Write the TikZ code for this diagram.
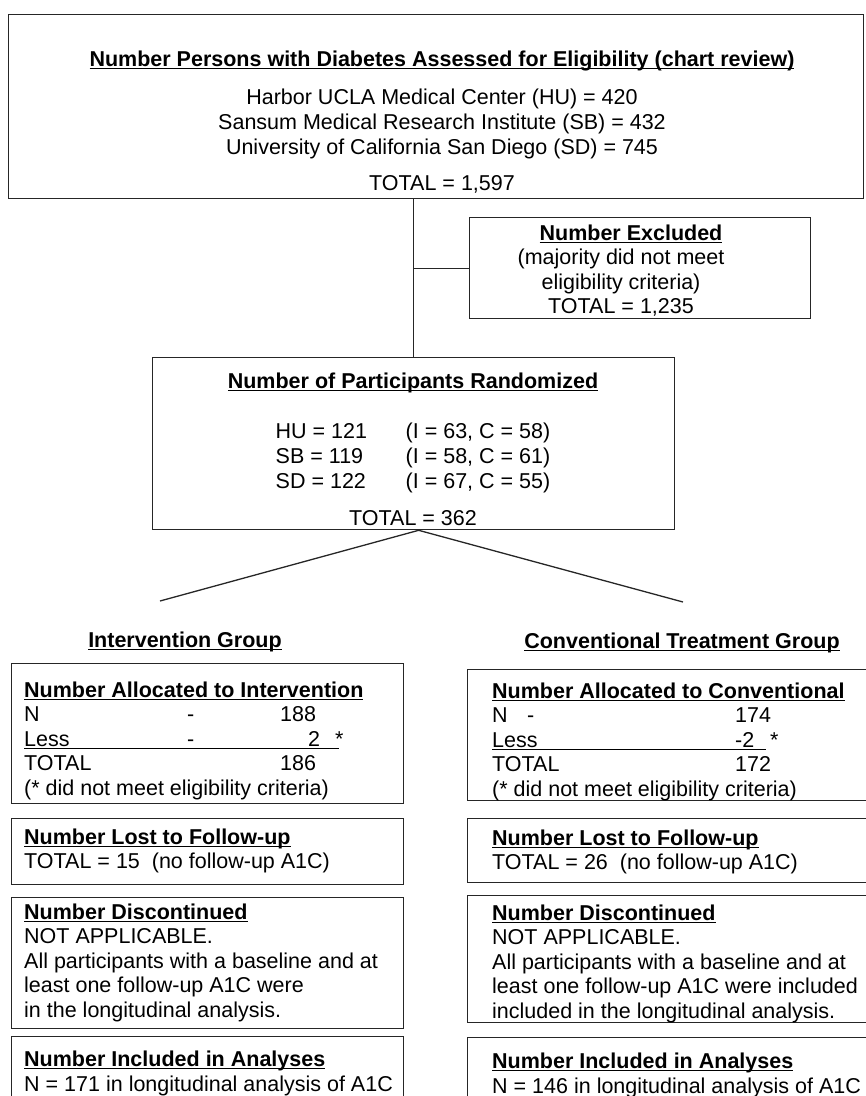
\documentclass[tikz,border=0pt]{standalone}
\usepackage{fontspec}
\setmainfont{Liberation Sans}
\usepackage{tikz}
\newcommand{\ulined}[1]{\setbox0=\hbox{#1}\rlap{\rule[-3.3pt]{\wd0}{1.5pt}}\box0}
\newcommand{\boxhead}[1]{\ulined{\textbf{#1}}}

\begin{document}
\begin{tikzpicture}[x=1pt, y=-1pt,
    box/.style={draw=black!85, line width=1.3pt, anchor=north west, inner sep=0pt},
    txt/.style={inner sep=0pt, font=\fontsize{21.5}{24.5}\selectfont},
    link/.style={draw=black!85, line width=1.3pt}]
    \useasboundingbox (0,0) rectangle (866,1096);
    \node[box, minimum width=855pt, minimum height=184pt] (assess) at (8,14) {};
    \node[box, minimum width=341pt, minimum height=101pt] (excl) at (469,217) {};
    \node[box, minimum width=522pt, minimum height=172pt] (rand) at (152,357) {};
    \node[box, minimum width=392pt, minimum height=140pt] (alloc-i) at (11,663) {};
    \node[box, minimum width=392pt, minimum height=66pt] (lost-i) at (11,818) {};
    \node[box, minimum width=392pt, minimum height=131pt] (disc-i) at (11,897) {};
    \node[box, minimum width=392pt, minimum height=100pt] (incl-i) at (11,1036) {};
    \node[box, minimum width=420pt, minimum height=131pt] (alloc-c) at (467,669) {};
    \node[box, minimum width=420pt, minimum height=64pt] (lost-c) at (467,818) {};
    \node[box, minimum width=420pt, minimum height=127pt] (disc-c) at (467,895) {};
    \node[box, minimum width=420pt, minimum height=100pt] (incl-c) at (467,1037) {};
    \coordinate (fork-i) at (160,601);
    \coordinate (fork-c) at (683,602);

    \node[txt, anchor=base] (assess-t) at (442,66) {\begin{tabular}[t]{@{}c@{}}
        \boxhead{Number Persons with Diabetes Assessed for Eligibility (chart review)}\\[13.5pt]
        Harbor UCLA Medical Center (HU) = 420\\[0.5pt]
        Sansum Medical Research Institute (SB) = 432\\[0.5pt]
        University of California San Diego (SD) = 745\\[11.5pt]
        TOTAL = 1,597
        \end{tabular}};
    \node[txt, anchor=base] (excl-t) at (621,240) {\begin{tabular}[t]{@{}c@{}}
        \hspace*{20pt}\boxhead{Number Excluded}\\
        (majority did not meet\\
        eligibility criteria)\\
        TOTAL = 1,235
        \end{tabular}};
    \node[txt, anchor=base] (rand-t) at (413,388) {\begin{tabular}[t]{@{}c@{}}
        \boxhead{Number of Participants Randomized}\\[25.5pt]
        \makebox[130pt][l]{HU = 121}(I = 63, C = 58)\\[0.5pt]
        \makebox[130pt][l]{SB = 119}(I = 58, C = 61)\\[0.5pt]
        \makebox[130pt][l]{SD = 122}(I = 67, C = 55)\\[12.5pt]
        TOTAL = 362
        \end{tabular}};
    \node[txt, anchor=base] (group-i) at (185,647) {\boxhead{Intervention Group}};
    \node[txt, anchor=base] (group-c) at (682,648) {\boxhead{Conventional Treatment Group}};

    \node[txt, anchor=base west] (alloc-i-t) at (24,697) {\begin{tabular}[t]{@{}l@{}}
        \boxhead{Number Allocated to Intervention}\\
        \makebox[163pt][l]{N}\makebox[93pt][l]{-}188\\
        \ulined{\makebox[315pt][l]{\makebox[163pt][l]{Less}\makebox[93pt][l]{-}\hspace{28pt}2\hspace{15pt}*}}\\
        \makebox[256pt][l]{TOTAL}186\\
        (* did not meet eligibility criteria)
        \end{tabular}};
    \node[txt, anchor=base west] (lost-i-t) at (24,844) {\begin{tabular}[t]{@{}l@{}}
        \boxhead{Number Lost to Follow-up}\\
        TOTAL = 15\ \ (no follow-up A1C)
        \end{tabular}};
    \node[txt, anchor=base west] (disc-i-t) at (24,919) {\begin{tabular}[t]{@{}l@{}}
        \boxhead{Number Discontinued}\\
        NOT APPLICABLE.\\
        All participants with a baseline and at\\
        least one follow-up A1C were\\
        in the longitudinal analysis.
        \end{tabular}};
    \node[txt, anchor=base west] (incl-i-t) at (24,1066) {\begin{tabular}[t]{@{}l@{}}
        \boxhead{Number Included in Analyses}\\[0.5pt]
        N = 171 in longitudinal analysis of A1C
        \end{tabular}};

    \node[txt, anchor=base west] (alloc-c-t) at (492,698) {\begin{tabular}[t]{@{}l@{}}
        \boxhead{Number Allocated to Conventional}\\
        \makebox[243pt][l]{\makebox[35pt][l]{N}-}174\\
        \ulined{\makebox[274pt][l]{\makebox[243pt][l]{Less}-2}}\hspace{4pt}*\\
        \makebox[243pt][l]{TOTAL}172\\
        (* did not meet eligibility criteria)
        \end{tabular}};
    \node[txt, anchor=base west] (lost-c-t) at (492,845) {\begin{tabular}[t]{@{}l@{}}
        \boxhead{Number Lost to Follow-up}\\
        TOTAL = 26\ \ (no follow-up A1C)
        \end{tabular}};
    \node[txt, anchor=base west] (disc-c-t) at (492,920) {\begin{tabular}[t]{@{}l@{}}
        \boxhead{Number Discontinued}\\
        NOT APPLICABLE.\\
        All participants with a baseline and at\\
        least one follow-up A1C were included\\
        included in the longitudinal analysis.
        \end{tabular}};
    \node[txt, anchor=base west] (incl-c-t) at (492,1068) {\begin{tabular}[t]{@{}l@{}}
        \boxhead{Number Included in Analyses}\\[0.5pt]
        N = 146 in longitudinal analysis of A1C
        \end{tabular}};

    \draw[link] (rand.north) -- (rand.north |- assess.south);
    \draw[link] (excl.west) -- (excl.west -| rand.north);
    \draw[link] (fork-i) -- ([xshift=5pt]rand.south) -- (fork-c);
\end{tikzpicture}
\end{document}
